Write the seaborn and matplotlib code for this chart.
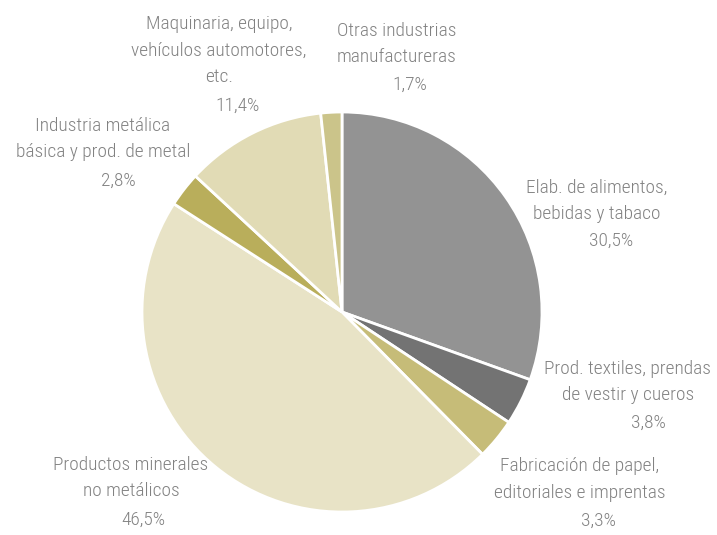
import matplotlib
matplotlib.use("Agg")
import matplotlib.pyplot as plt
from matplotlib import font_manager
import seaborn as sns

# participación por rama industrial (%)
sectores = [
    "Elab. de alimentos,\nbebidas y tabaco",
    "Prod. textiles, prendas\nde vestir y cueros",
    "Fabricación de papel,\neditoriales e imprentas",
    "Productos minerales\nno metálicos",
    "Industria metálica\nbásica y prod. de metal",
    "Maquinaria, equipo,\nvehículos automotores,\netc.",
    "Otras industrias\nmanufactureras",
]
participacion = [30.5, 3.8, 3.3, 46.5, 2.8, 11.4, 1.7]
colores = ["#939393", "#737373", "#c6bc78", "#e8e3c6", "#b9ae5b", "#e1dbb5", "#cbc48a"]

# label layout in pixels: x of name, baseline of first name line, x of pct, baseline of pct
etiquetas_px = [
    (597, 193, 611, 246),
    (628, 374, 648, 428),
    (580, 471, 599, 526),
    (131, 470, 143, 525),
    (103, 131, 118, 186),
    (219, 29, 238, 111),
    (397, 36, 410, 90),
]

W, H = 717, 535
CX, CY, R = 342, 312, 200   # pie centre and radius in pixels
PITCH = 26.5                 # line spacing in pixels

sns.set_theme(style="white")


def pick_font():
    entries = font_manager.fontManager.ttflist
    names = {f.name for f in entries}
    for cand in ["Roboto Condensed", "Liberation Sans Narrow", "Open Sans Condensed", "Noto Sans Condensed"]:
        if cand in names:
            return cand, "normal"
    if any(f.name == "DejaVu Sans" and f.stretch == "condensed" for f in entries):
        return "DejaVu Sans", "condensed"
    return "Liberation Sans", "normal"


familia, ancho = pick_font()
plt.rcParams["font.family"] = [familia, "DejaVu Sans"]

fig = plt.figure(figsize=(W / 100, H / 100), dpi=100)
ax = fig.add_axes([0, 0, 1, 1])

# size the font so that a reference line has the width seen in the chart
renderer = fig.canvas.get_renderer()
prueba = fig.text(0, 0, "Elab. de alimentos,", fontsize=10, family=[familia, "DejaVu Sans"],
                  stretch=ancho, weight="light")
w10 = prueba.get_window_extent(renderer).width
prueba.remove()
tam = min(10 * 142 / w10, 17)

ax.pie(participacion, colors=sns.color_palette(colores), startangle=90, counterclock=False,
       radius=1, wedgeprops=dict(edgecolor="white", linewidth=2))

ax.set_xlim(-CX / R, (W - CX) / R)
ax.set_ylim(-(H - CY) / R, CY / R)
ax.set_aspect("auto")
ax.axis("off")


def px(x, y):
    return (x - CX) / R, (CY - y) / R


estilo = dict(ha="center", va="baseline", fontsize=tam, color="#828282",
              family=[familia, "DejaVu Sans"], stretch=ancho, weight="light")

for nombre, valor, (xn, yn, xp, yp) in zip(sectores, participacion, etiquetas_px):
    for j, linea in enumerate(nombre.split("\n")):
        ax.text(*px(xn, yn + j * PITCH), linea, **estilo)
    ax.text(*px(xp, yp), f"{valor:.1f}%".replace(".", ","), **estilo)

fig.savefig("out.png", dpi=100)
